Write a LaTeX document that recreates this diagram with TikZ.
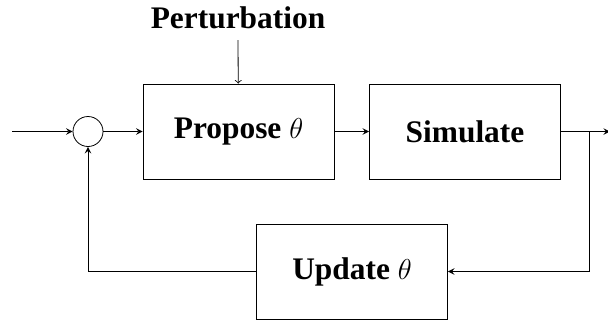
\documentclass[tikz,border=0pt]{standalone}
\usepackage{amsmath, amssymb}
\usepackage{fontspec}
\setmainfont{Liberation Serif}
\usetikzlibrary{arrows}

\begin{document}
\begin{tikzpicture}[x=0.5pt,y=-0.5pt,
  blk/.style={draw,minimum width=95.5pt,minimum height=47.5pt,inner sep=0pt,font=\fontsize{15.7}{18}\selectfont\bfseries},
  sumpt/.style={draw,circle,minimum size=15pt,inner sep=0pt},
  sig/.style={-stealth,line width=0.45pt}]
\useasboundingbox (0,0) rectangle (608,323);
%
\node[sumpt] (sum) at (88,131.5) {};
\node[blk] (propose) at (238.5,131.5) {Propose $\theta$};
\node[blk] (simulate) at (465,131.5) {Simulate};
\node[blk] (update) at (352,271.5) {Update $\theta$};
\node[font=\fontsize{15.7}{18}\selectfont\bfseries,inner sep=0pt] (perturb) at (238,18) {Perturbation};
\coordinate (in) at (12,131.5);
\coordinate (out) at (610,131.5);
\coordinate (branch) at (589,131.5);
\coordinate (ptop) at (238,40);
%
\draw[sig] (in) -- (sum);
\draw[sig] (sum) -- (propose);
\draw[sig] (propose) -- (simulate);
\draw[sig] (simulate) -- (out);
\draw[->] (ptop) -- (propose);
\draw[sig] (branch) |- (update);
\draw[sig] (update) -| (sum);
%
\end{tikzpicture}
\end{document}
